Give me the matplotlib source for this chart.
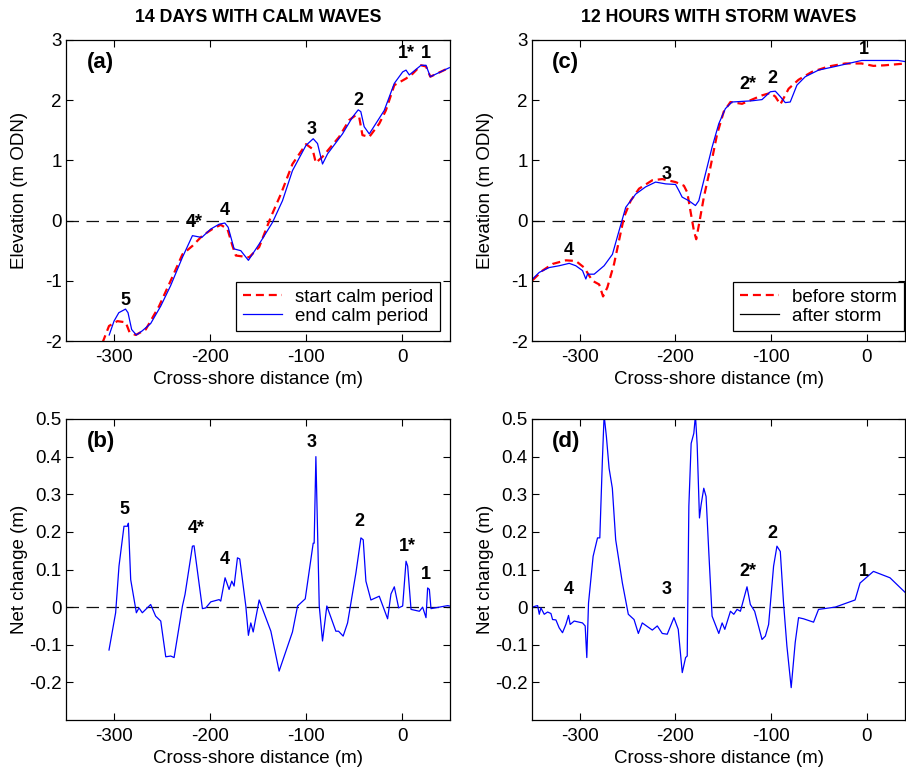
from __future__ import annotations

import matplotlib

matplotlib.use("Agg")
import matplotlib.pyplot as plt
from matplotlib.lines import Line2D


OUTPUT_PATH = "out.png"
FONT_FAMILY = ["Liberation Sans", "DejaVu Sans"]
TEXT_SIZE = 13.5
RED = "#ff0000"
BLUE = "#0000ff"

# ---- calm period: profile elevation (m ODN) ----
CALM_START_X = [-312, -305.2, -296.5, -287.8, -283.7, -277.4, -267, -253, -241, -228.7, -218.3, -207.9,
                -197.5, -188.8, -181.8, -176.6, -173.1, -159.2, -148.8, -136.6, -126.2, -114.1, -100,
                -93.2, -89.8, -82.8, -65.5, -55, -48.2, -44.6, -41.2, -34.1, -23.7, -16.8, -8, 4.2, 11.1,
                19.8, 25, 29.5, 49.3]
CALM_START_Z = [-2.03, -1.75, -1.67, -1.69, -1.86, -1.90, -1.81, -1.42, -1.0, -0.56, -0.42, -0.25,
                -0.14, -0.07, -0.14, -0.42, -0.58, -0.61, -0.44, 0.06, 0.44, 0.94, 1.27,
                1.19, 0.96, 1.06, 1.39, 1.67, 1.75, 1.72, 1.42, 1.39, 1.61, 1.83, 2.25, 2.36, 2.44,
                2.58, 2.56, 2.39, 2.54]
CALM_END_X = [-305, -300, -295, -288, -285.4, -281.6, -276.7, -270.5, -261.8, -251.3, -241, -228.7,
              -218.3, -208.6, -199.2, -190.5, -184.6, -181.1, -174.9, -167.9, -160, -148.8, -134.9,
              -124.5, -114.1, -100, -92.5, -88, -82.8, -77.5, -62, -51.5, -45.6, -42.9, -39.4, -34.1,
              -18.5, -8, 0.7, 4.2, 7.6, 19.8, 25, 29.5, 49.3]
CALM_END_Z = [-1.90, -1.67, -1.53, -1.47, -1.53, -1.81, -1.90, -1.83, -1.71, -1.42, -1.08, -0.61,
              -0.25, -0.28, -0.14, -0.06, -0.04, -0.11, -0.47, -0.50, -0.66, -0.39, -0.03,
              0.33, 0.83, 1.25, 1.36, 1.28, 0.94, 1.11, 1.44, 1.72, 1.84, 1.81, 1.56, 1.44,
              1.83, 2.28, 2.47, 2.50, 2.42, 2.58, 2.58, 2.39, 2.54]

# ---- storm: profile elevation (m ODN) ----
STORM_BEFORE_X = [-349.4, -339, -328.5, -314.6, -304.2, -295.5, -286.8, -279.8, -275.7, -271.2, -264.2,
                  -259, -253.8, -246.8, -238.1, -224.2, -213.8, -199.9, -191.2, -187.7, -184.1, -180.7,
                  -178.3, -175.6, -170.3, -163.4, -156.4, -149.5, -142.5, -130.4, -120, -109.5, -100.8,
                  -95.6, -90.4, -87, -81.7, -71.3, -57.4, -40, -22.6, -5.3, 6.9, 19, 40.6]
STORM_BEFORE_Z = [-0.99, -0.83, -0.72, -0.66, -0.67, -0.78, -1.0, -1.06, -1.26, -1.11, -0.72,
                  -0.33, 0.06, 0.33, 0.53, 0.67, 0.69, 0.64, 0.58, 0.47, 0.14, -0.17,
                  -0.31, -0.08, 0.39, 0.89, 1.44, 1.81, 1.97, 1.94, 2.01, 2.08, 2.12,
                  2.06, 1.93, 2.03, 2.19, 2.34, 2.47, 2.56, 2.61, 2.61, 2.57, 2.58, 2.61]
STORM_AFTER_X = [-349.4, -342.4, -332, -321.6, -311.1, -304.2, -297.2, -293.7, -292, -285, -274.6,
                 -265.9, -259, -252, -241.6, -231.2, -220.8, -210.3, -199.9, -196.5, -193, -186, -179.1,
                 -175.6, -168.6, -161.7, -154.7, -147.8, -140.8, -130.4, -120, -109.5, -100.8, -95.6,
                 -90.4, -85.2, -80, -73, -64.3, -50.4, -33, -19.2, -5.3, 15.6, 33, 40.6]
STORM_AFTER_Z = [-0.97, -0.86, -0.78, -0.75, -0.71, -0.75, -0.83, -0.97, -0.89, -0.89, -0.75,
                 -0.56, -0.17, 0.22, 0.44, 0.56, 0.64, 0.61, 0.60, 0.50, 0.39, 0.33, 0.25,
                 0.33, 0.78, 1.22, 1.61, 1.86, 1.97, 1.98, 1.99, 2.01, 2.14, 2.15,
                 2.06, 1.96, 1.97, 2.25, 2.39, 2.50, 2.56, 2.61, 2.66, 2.66, 2.66, 2.64]

# ---- net change (m) ----
CALM_CHANGE_X = [-305.2, -298.3, -294.8, -289.6, -286.1, -285, -282.6, -276.7, -274, -270.5, -261.8,
                 -256.6, -251.3, -246.1, -240.9, -237.4, -228.7, -226, -218.3, -216.6, -207.9, -204.4,
                 -199.2, -190.5, -188.8, -184.3, -180.1, -177.3, -174.9, -171.4, -169, -162.7, -160,
                 -157.5, -155, -148.8, -136.6, -128, -114.1, -108.8, -100.8, -92.5, -91.5, -89.7, -86.2,
                 -82.8, -78.3, -68.9, -66.1, -61.3, -56.7, -48, -42.8, -40.4, -37.6, -32.4, -23.7, -15,
                 -11.5, -8, -3.5, 0.7, 4.2, 5.9, 9.4, 18.1, 21.5, 25, 26.7, 28.5, 30.2, 47.6, 49.3]
CALM_CHANGE_Z = [-0.114, -0.015, 0.109, 0.215, 0.215, 0.223, 0.073, -0.015, -0.002, -0.015, 0.007,
                 -0.024, -0.037, -0.132, -0.130, -0.134, 0.003, 0.034, 0.162, 0.163, -0.004, -0.002,
                 0.014, 0.020, 0.016, 0.078, 0.047, 0.069, 0.056, 0.131, 0.128, 0.003, -0.075,
                 -0.042, -0.066, 0.019, -0.064, -0.170, -0.066, 0.003, 0.022, 0.170, 0.170, 0.400, 0.003,
                 -0.090, 0.003, -0.064, -0.064, -0.077, -0.042, 0.091, 0.184, 0.179, 0.069, 0.019, 0.029,
                 -0.031, 0.035, 0.054, -0.002, 0.003, 0.122, 0.109, -0.006, -0.011, 0.0, -0.028, 0.051,
                 0.047, -0.004, 0.004, 0.003]
STORM_CHANGE_X = [-349.4, -345.9, -344.1, -342.4, -340.7, -337.2, -333.7, -330.2, -328.5, -325, -321.6,
                  -318.1, -314.6, -311.8, -310.1, -305.9, -297.2, -294.4, -292.7, -290.9, -286.1, -281.5,
                  -279.1, -276.4, -274.6, -272.2, -269.4, -266, -262.5, -255.5, -249.3, -243.3, -238.8,
                  -234.7, -224.2, -219, -213.8, -208.6, -201.6, -197.1, -192.9, -189.4, -187.7, -186,
                  -183.6, -180.8, -179.1, -177.3, -174.9, -173.2, -170.4, -168, -165.1, -161.7, -154.7,
                  -151.2, -148.4, -142.5, -139, -135.6, -132.1, -125.2, -121.7, -117.2, -109.5, -106,
                  -102.6, -97.4, -93.9, -90.4, -87, -83.5, -79, -74.8, -71.3, -66.1, -55.6, -50.4, -33,
                  -12.2, -7, 7, 24.3, 40.6]
STORM_CHANGE_Z = [0.0, 0.003, 0.004, -0.019, -0.002, -0.019, -0.013, -0.017, -0.033, -0.034, -0.055,
                  -0.068, -0.046, -0.022, -0.046, -0.037, -0.042, -0.050, -0.134, 0.011, 0.135, 0.184,
                  0.184, 0.391, 0.510, 0.453, 0.369, 0.316, 0.179, 0.064, -0.019, -0.033, -0.070,
                  -0.042, -0.061, -0.050, -0.070, -0.072, -0.028, -0.059, -0.174, -0.134, -0.130, 0.268,
                  0.435, 0.462, 0.510, 0.431, 0.237, 0.272, 0.316, 0.294, 0.144, -0.024, -0.070,
                  -0.042, -0.059, -0.011, -0.019, -0.006, -0.011, 0.054, 0.007, -0.011, -0.086, -0.077,
                  -0.046, 0.109, 0.162, 0.148, 0.011, -0.103, -0.214, -0.094, -0.028, -0.031, -0.040,
                  -0.006, 0.0, 0.019, 0.064, 0.095, 0.078, 0.038]

# ---- bar / feature labels: (text, x, y) ----
CALM_PROFILE_LABELS = [("5", -288.5, -1.32), ("4*", -216.6, -0.03), ("4", -184.6, 0.17), ("3", -94.2, 1.51),
                       ("2", -45.2, 2.0), ("1*", 4.2, 2.78), ("1", 25, 2.78)]
STORM_PROFILE_LABELS = [("4", -311.8, -0.49), ("3", -209.3, 0.77), ("2*", -124.5, 2.26), ("2", -98.4, 2.36),
                        ("1", -3.5, 2.84)]
CALM_CHANGE_LABELS = [("5", -288.9, 0.259), ("4*", -214.8, 0.21), ("4", -184.3, 0.126), ("3", -94.2, 0.438),
                      ("2", -44.5, 0.228), ("1*", 5.2, 0.16), ("1", 25, 0.087)]
STORM_CHANGE_LABELS = [("4", -311.8, 0.047), ("3", -209.3, 0.047), ("2*", -124.5, 0.095), ("2", -98.4, 0.197),
                       ("1", -3.5, 0.095)]

X_TICKS = [-300, -200, -100, 0]
ELEV_TICKS = [-2, -1, 0, 1, 2, 3]
CHANGE_TICKS = [-0.2, -0.1, 0, 0.1, 0.2, 0.3, 0.4, 0.5]


def style_axes(ax, xlim, ylim, yticks) -> None:
    ax.set_xlim(*xlim)
    ax.set_ylim(*ylim)
    ax.set_xticks(X_TICKS)
    ax.set_xticklabels([f"{t:g}" for t in X_TICKS])
    ax.set_yticks(yticks)
    ax.set_yticklabels([f"{t:g}" for t in yticks])
    ax.tick_params(direction="in", top=True, right=True, length=5, width=0.8, labelsize=TEXT_SIZE)
    ax.tick_params(axis="x", pad=6)
    ax.tick_params(axis="y", pad=3)
    for spine in ax.spines.values():
        spine.set_linewidth(0.9)
    ax.axhline(0, color="#111111", linewidth=0.9, dashes=(10, 6), zorder=1)
    ax.set_xlabel("Cross-shore distance (m)", fontsize=TEXT_SIZE)
    ax.xaxis.set_label_coords(0.5, -0.1)


def add_labels(ax, labels) -> None:
    for text, x, y in labels:
        ax.text(x, y, text, ha="center", va="center", fontsize=13, fontweight="bold", zorder=5)


def add_panel_tag(ax, tag) -> None:
    ax.text(0.09, 0.925, tag, transform=ax.transAxes, ha="center", va="center",
            fontsize=16, fontweight="bold")


def add_legend(ax, handles, names, anchor) -> None:
    leg = ax.legend(handles, names, loc="lower right", bbox_to_anchor=anchor, borderaxespad=0,
                    fontsize=TEXT_SIZE, fancybox=False, edgecolor="black", framealpha=1,
                    borderpad=0.35, handlelength=2.1, handletextpad=0.7, labelspacing=0.1)
    leg.get_frame().set_linewidth(0.9)


def main() -> int:
    plt.rcParams["font.family"] = FONT_FAMILY
    fig = plt.figure(figsize=(9.06, 7.73), dpi=100)
    W, H = 906, 773

    def add_axes(left, top, right, bottom):
        return fig.add_axes([left / W, 1 - bottom / H, (right - left) / W, (bottom - top) / H])

    ax_a = add_axes(66, 40, 450, 341)
    ax_c = add_axes(532, 40, 905, 341)
    ax_b = add_axes(66, 419, 450, 720)
    ax_d = add_axes(532, 419, 905, 720)

    red_dashes = dict(color=RED, linewidth=1.6, dashes=(3.6, 2.2))

    # (a) calm profiles
    style_axes(ax_a, (-350, 50), (-2, 3), ELEV_TICKS)
    ax_a.plot(CALM_START_X, CALM_START_Z, **red_dashes)
    ax_a.plot(CALM_END_X, CALM_END_Z, color=BLUE, linewidth=0.9)
    add_labels(ax_a, CALM_PROFILE_LABELS)
    add_panel_tag(ax_a, "(a)")
    ax_a.set_ylabel("Elevation (m ODN)", fontsize=TEXT_SIZE)
    ax_a.yaxis.set_label_coords(-0.098, 0.5)
    ax_a.set_title("14 DAYS WITH CALM WAVES", fontsize=12.8, fontweight="bold", pad=13)
    add_legend(ax_a,
               [Line2D([], [], **red_dashes), Line2D([], [], color=BLUE, linewidth=0.9)],
               ["start calm period", "end calm period"], (0.974, 0.033))

    # (c) storm profiles
    style_axes(ax_c, (-350, 40), (-2, 3), ELEV_TICKS)
    ax_c.plot(STORM_BEFORE_X, STORM_BEFORE_Z, **red_dashes)
    ax_c.plot(STORM_AFTER_X, STORM_AFTER_Z, color=BLUE, linewidth=0.9)
    add_labels(ax_c, STORM_PROFILE_LABELS)
    add_panel_tag(ax_c, "(c)")
    ax_c.set_ylabel("Elevation (m ODN)", fontsize=TEXT_SIZE)
    ax_c.yaxis.set_label_coords(-0.101, 0.5)
    ax_c.set_title("12 HOURS WITH STORM WAVES", fontsize=12.8, fontweight="bold", pad=13)
    add_legend(ax_c,
               [Line2D([], [], **red_dashes), Line2D([], [], color="black", linewidth=0.9)],
               ["before storm", "after storm"], (0.997, 0.033))

    # (b) calm net change
    style_axes(ax_b, (-350, 50), (-0.3, 0.5), CHANGE_TICKS)
    ax_b.plot(CALM_CHANGE_X, CALM_CHANGE_Z, color=BLUE, linewidth=0.9)
    add_labels(ax_b, CALM_CHANGE_LABELS)
    add_panel_tag(ax_b, "(b)")
    ax_b.set_ylabel("Net change (m)", fontsize=TEXT_SIZE)
    ax_b.yaxis.set_label_coords(-0.098, 0.5)

    # (d) storm net change
    style_axes(ax_d, (-350, 40), (-0.3, 0.5), CHANGE_TICKS)
    ax_d.plot(STORM_CHANGE_X, STORM_CHANGE_Z, color=BLUE, linewidth=0.9)
    add_labels(ax_d, STORM_CHANGE_LABELS)
    add_panel_tag(ax_d, "(d)")
    ax_d.set_ylabel("Net change (m)", fontsize=TEXT_SIZE)
    ax_d.yaxis.set_label_coords(-0.101, 0.5)

    fig.savefig(OUTPUT_PATH, dpi=100)
    plt.close(fig)
    return 0


if __name__ == "__main__":
    raise SystemExit(main())
